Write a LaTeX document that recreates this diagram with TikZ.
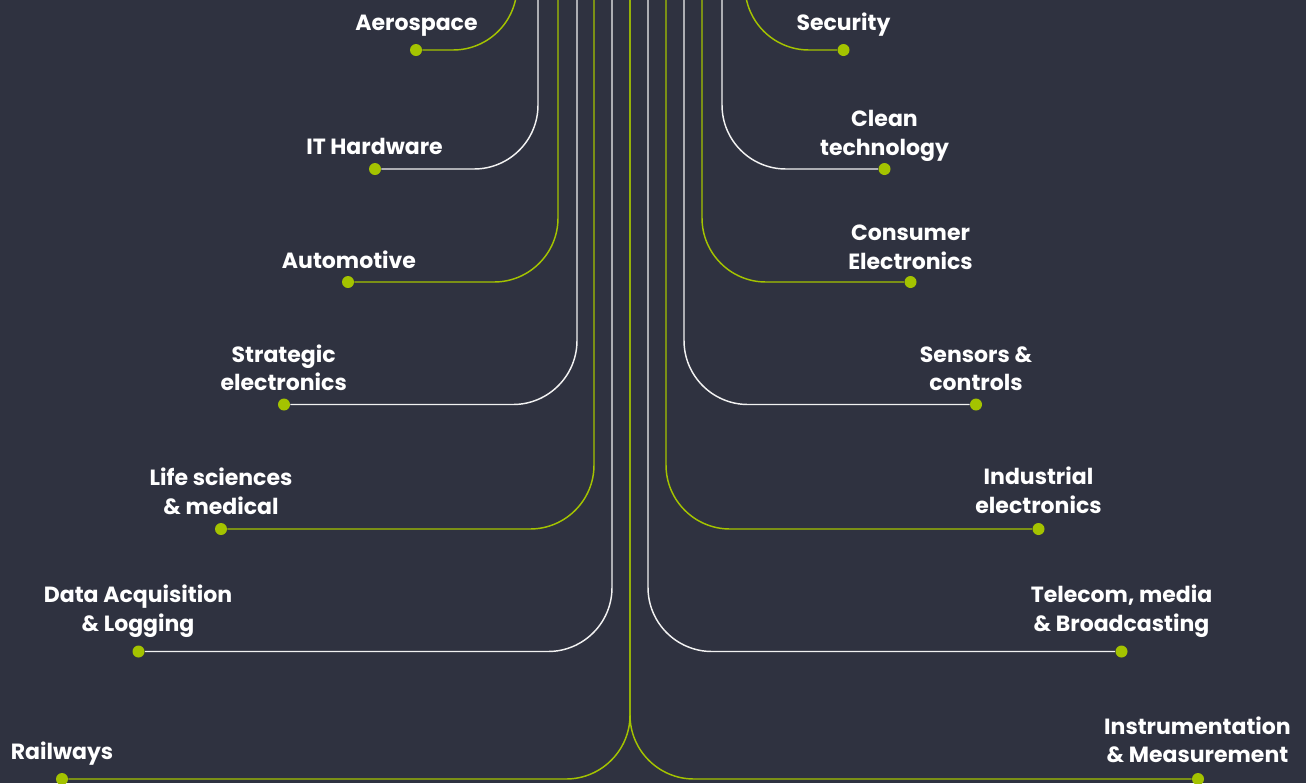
\documentclass[tikz,border=0pt]{standalone}
\usepackage{fontspec}
\setmainfont{Poppins}
\begin{document}
\begin{tikzpicture}[x=0.75pt,y=-0.75pt,
  wline/.style={draw=wcol,line width=1.1pt,rounded corners=48pt},
  gline/.style={draw=gcol,line width=1.1pt,rounded corners=48pt},
  dot/.style={circle,fill=gcol,inner sep=0pt,minimum size=9pt},
  lab/.style={text=white,font=\fontsize{16.5}{21.5}\selectfont\bfseries,align=center,anchor=base,inner sep=0pt}]
\definecolor{bgcol}{HTML}{2F3240}
\definecolor{gcol}{HTML}{A4C300}
\definecolor{wcol}{HTML}{F2F2F2}
\useasboundingbox (0,0) rectangle (1306,783);
\fill[bgcol] (0,0) rectangle (1306,783);
% tops of the branches
\coordinate (aerT) at (517,-30);
\coordinate (itT) at (538,-30);
\coordinate (autT) at (558,-30);
\coordinate (strT) at (577,-30);
\coordinate (lifT) at (594,-30);
\coordinate (datT) at (612,-30);
\coordinate (trkT) at (630,-30);
\coordinate (telT) at (648,-30);
\coordinate (indT) at (666,-30);
\coordinate (senT) at (684,-30);
\coordinate (conT) at (702,-30);
\coordinate (clnT) at (722,-30);
\coordinate (secT) at (745,-30);
% end dots
\node[dot] (aerD) at (416,50) {};
\node[dot] (itD) at (375,169) {};
\node[dot] (autD) at (348,282) {};
\node[dot] (strD) at (284,404.5) {};
\node[dot] (lifD) at (221,529) {};
\node[dot] (datD) at (138.5,651.5) {};
\node[dot] (raiD) at (62,779) {};
\node[dot] (secD) at (843.5,50) {};
\node[dot] (clnD) at (884.5,169) {};
\node[dot] (conD) at (910.5,282) {};
\node[dot] (senD) at (976,404.5) {};
\node[dot] (indD) at (1038.5,529) {};
\node[dot] (telD) at (1121.5,651.5) {};
\node[dot] (insD) at (1198,779) {};
% connectors
\draw[gline] (aerT) |- (aerD);
\draw[wline] (itT) |- (itD);
\draw[gline] (autT) |- (autD);
\draw[wline] (strT) |- (strD);
\draw[gline] (lifT) |- (lifD);
\draw[wline] (datT) |- (datD);
\draw[gline] (trkT) |- (raiD);
\draw[gline] (trkT) |- (insD);
\draw[wline] (telT) |- (telD);
\draw[gline] (indT) |- (indD);
\draw[wline] (senT) |- (senD);
\draw[gline] (conT) |- (conD);
\draw[wline] (clnT) |- (clnD);
\draw[gline] (secT) |- (secD);
% labels (y = baseline of the last line)
\node[lab] (aerL) at (416.5,30) {Aerospace};
\node[lab] (itL) at (374.5,154) {IT Hardware};
\node[lab] (autL) at (349,268) {Automotive};
\node[lab] (strL) at (283.7,390.7) {Strategic\\electronics};
\node[lab] (lifL) at (221,514) {Life sciences\\\& medical};
\node[lab] (datL) at (138,631) {Data Acquisition\\\& Logging};
\node[lab] (raiL) at (62,759) {Railways};
\node[lab] (secL) at (843.5,30) {Security};
\node[lab] (clnL) at (884.5,155) {Clean\\technology};
\node[lab] (conL) at (910.5,269) {Consumer\\Electronics};
\node[lab] (senL) at (976,390.7) {Sensors \&\\controls};
\node[lab] (indL) at (1038.5,513) {Industrial\\electronics};
\node[lab] (telL) at (1121.5,631) {Telecom, media\\\& Broadcasting};
\node[lab] (insL) at (1197.5,762.7) {Instrumentation\\\& Measurement};
\end{tikzpicture}
\end{document}
